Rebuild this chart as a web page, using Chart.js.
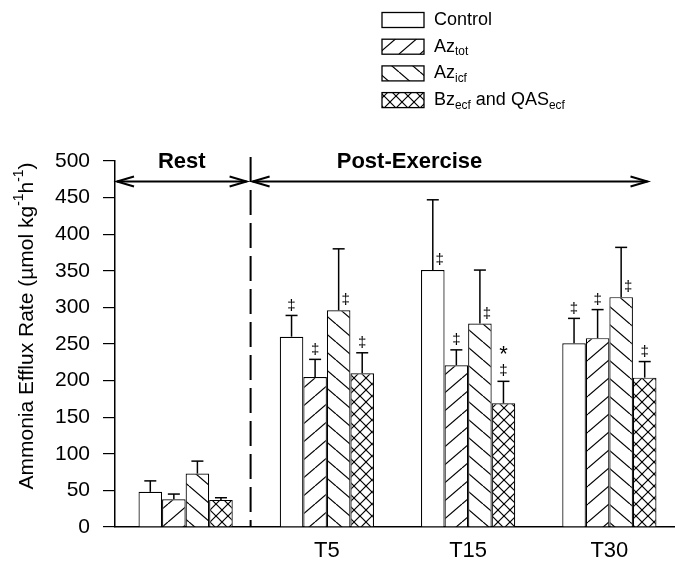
<!DOCTYPE html>
<html>
<head>
<meta charset="utf-8">
<script src="https://cdn.jsdelivr.net/npm/chart.js@4"></script>
<style>
  html, body { margin: 0; padding: 0; overflow: hidden; background: #fff; }
</style>
</head>
<body>
<canvas id="effluxChart" width="680" height="561"></canvas>
<script>
// values (umol kg-1 h-1), mean and +SE
const categories = ['', 'T5', 'T15', 'T30'];
const control    = [48, 260, 351, 251];
const controlErr = [15, 29, 96, 34];
const azTot      = [38, 205, 221, 258];
const azTotErr   = [7, 24, 21, 39];
const azIcf      = [73, 296, 278, 314];
const azIcfErr   = [17, 84, 73, 68];
const bzQas      = [37, 210, 169, 204];
const bzQasErr   = [3, 28, 30, 22];
// significance marks
const controlSig = ['', '‡', '‡', '‡'];
const azTotSig   = ['', '‡', '‡', '‡'];
const azIcfSig   = ['', '‡', '‡', '‡'];
const bzQasSig   = ['', '‡', '*‡', '‡'];
const legendLabels = ['Control', 'Az_{tot}', 'Az_{icf}', 'Bz_{ecf} and QAS_{ecf}'];
const yTitle = 'Ammonia Efflux Rate (\u00b5mol kg^{-1}h^{-1})';

const FONT = '"Liberation Sans", Arial, sans-serif';

function hatch(kind) {
    var w = kind === 'cross' ? 12 : 21, h = kind === 'cross' ? 12 : 18;
    var c = document.createElement('canvas');
    c.width = w; c.height = h;
    var g = c.getContext('2d');
    g.fillStyle = '#fff';
    g.fillRect(0, 0, w, h);
    g.strokeStyle = '#000';
    g.lineWidth = 1.2;
    for (var k = -1; k <= 1; k++) {
        if (kind === 'fwd' || kind === 'cross') {
            g.beginPath(); g.moveTo(k * w, h); g.lineTo(k * w + w, 0); g.stroke();
        }
        if (kind === 'back' || kind === 'cross') {
            g.beginPath(); g.moveTo(k * w, 0); g.lineTo(k * w + w, h); g.stroke();
        }
    }
    return g.createPattern(c, 'repeat');
}

function richText(ctx, str, x, y, size, align) {
    var segs = str.split(/([_^]\{[^}]*\})/).filter(function (s) { return s; }).map(function (p) {
        if (p[0] === '_') return { t: p.slice(2, -1), s: size * 0.66, dy: size * 0.3 };
        if (p[0] === '^') return { t: p.slice(2, -1), s: size * 0.66, dy: -size * 0.38 };
        return { t: p, s: size, dy: 0 };
    });
    var total = 0;
    segs.forEach(function (g) {
        ctx.font = g.s + 'px ' + FONT;
        g.w = ctx.measureText(g.t).width;
        total += g.w;
    });
    var cx = align === 'center' ? x - total / 2 : x;
    ctx.textAlign = 'left';
    ctx.textBaseline = 'middle';
    segs.forEach(function (g) {
        ctx.font = g.s + 'px ' + FONT;
        ctx.fillText(g.t, cx, y + g.dy);
        cx += g.w;
    });
}

function line(ctx, x1, y1, x2, y2) {
    ctx.beginPath(); ctx.moveTo(x1, y1); ctx.lineTo(x2, y2); ctx.stroke();
}

function arrowHead(ctx, x, y, dir) {
    ctx.beginPath();
    ctx.moveTo(x - dir * 17, y - 5);
    ctx.lineTo(x, y);
    ctx.lineTo(x - dir * 17, y + 5);
    ctx.stroke();
}

const overlay = {
    id: 'overlay',
    afterDatasetsDraw(chart) {
        const { ctx, chartArea, scales: { x, y } } = chart;
        ctx.save();
        ctx.fillStyle = '#000';
        ctx.strokeStyle = '#000';
        // error bars and marks
        chart.data.datasets.forEach(function (ds, i) {
            chart.getDatasetMeta(i).data.forEach(function (bar, j) {
                var top = y.getPixelForValue(ds.data[j] + ds.err[j]);
                ctx.lineWidth = 1.5;
                line(ctx, bar.x, bar.y, bar.x, top);
                line(ctx, bar.x - 6, top, bar.x + 6, top);
                var mark = ds.sig[j];
                if (!mark) return;
                ctx.textAlign = 'center';
                ctx.textBaseline = 'middle';
                ctx.font = '15px ' + FONT;
                if (ds.err[j] > 50) {
                    ctx.fillText('‡', bar.x + 7, bar.y - 10);
                } else {
                    ctx.fillText('‡', bar.x, top - 10);
                }
                if (mark.indexOf('*') >= 0) {
                    ctx.font = '22px ' + FONT;
                    ctx.textBaseline = 'alphabetic';
                    ctx.fillText('*', bar.x, top - 20);
                }
            });
        });

        // Rest / Post-Exercise divider and arrows
        var divX = x.getPixelForValue(0.46);
        ctx.lineWidth = 2;
        ctx.setLineDash([25, 8]);
        line(ctx, divX, chartArea.top - 4, divX, chartArea.bottom);
        ctx.setLineDash([]);
        var ay = y.getPixelForValue(472);
        var restL = chartArea.left + 2, restR = divX - 4;
        var postL = divX + 2, postR = x.getPixelForValue(3.27);
        line(ctx, restL, ay, restR, ay);
        arrowHead(ctx, restL, ay, -1);
        arrowHead(ctx, restR, ay, 1);
        line(ctx, postL, ay, postR, ay);
        arrowHead(ctx, postL, ay, -1);
        arrowHead(ctx, postR, ay, 1);
        ctx.font = 'bold 22px ' + FONT;
        ctx.textAlign = 'center';
        ctx.textBaseline = 'middle';
        ctx.fillText('Rest', (restL + restR) / 2, chartArea.top + 1);
        ctx.fillText('Post-Exercise', x.getPixelForValue(1.585), chartArea.top + 1);

        // y title with superscripts
        ctx.save();
        ctx.translate(27, 326);
        ctx.rotate(-Math.PI / 2);
        richText(ctx, yTitle, 0, 0, 21, 'center');
        ctx.restore();

        // legend
        chart.data.datasets.forEach(function (ds, i) {
            var cy = 20 + i * 26.7;
            ctx.fillStyle = ds.backgroundColor;
            ctx.fillRect(382, cy - 7.5, 42, 15);
            ctx.lineWidth = 1.3;
            ctx.strokeRect(382, cy - 7.5, 42, 15);
            ctx.fillStyle = '#000';
            richText(ctx, legendLabels[i], 434, cy, 18, 'left');
        });
        ctx.restore();
    }
};

const barStyle = { borderColor: '#000', borderWidth: 1.2 };

new Chart(document.getElementById('effluxChart').getContext('2d'), {
    type: 'bar',
    data: {
        labels: categories,
        datasets: [
            Object.assign({ label: 'Control', data: control, err: controlErr, sig: controlSig, backgroundColor: '#fff' }, barStyle),
            Object.assign({ label: 'Az tot', data: azTot, err: azTotErr, sig: azTotSig, backgroundColor: hatch('fwd') }, barStyle),
            Object.assign({ label: 'Az icf', data: azIcf, err: azIcfErr, sig: azIcfSig, backgroundColor: hatch('back') }, barStyle),
            Object.assign({ label: 'Bz ecf and QAS ecf', data: bzQas, err: bzQasErr, sig: bzQasSig, backgroundColor: hatch('cross') }, barStyle)
        ]
    },
    options: {
        responsive: false,
        animation: false,
        layout: { padding: { top: 161, left: 0, right: 0, bottom: 0 } },
        datasets: { bar: { barPercentage: 1, categoryPercentage: 0.667 } },
        plugins: { legend: { display: false }, tooltip: { enabled: false } },
        scales: {
            x: {
                grid: { display: false, drawTicks: false },
                border: { display: true, color: '#000', width: 1.5 },
                ticks: { color: '#000', padding: 11, font: { family: FONT, size: 22 } },
                afterFit: function (s) { s.height = 34; }
            },
            y: {
                min: 0,
                max: 500,
                grid: { drawOnChartArea: false, drawTicks: true, tickLength: 12, color: '#000', lineWidth: 1.2 },
                border: { display: true, color: '#000', width: 1.5 },
                ticks: { stepSize: 50, color: '#000', padding: 13, font: { family: FONT, size: 21 } },
                afterFit: function (s) { s.width = 115; }
            }
        }
    },
    plugins: [overlay]
});
</script>
</body>
</html>
